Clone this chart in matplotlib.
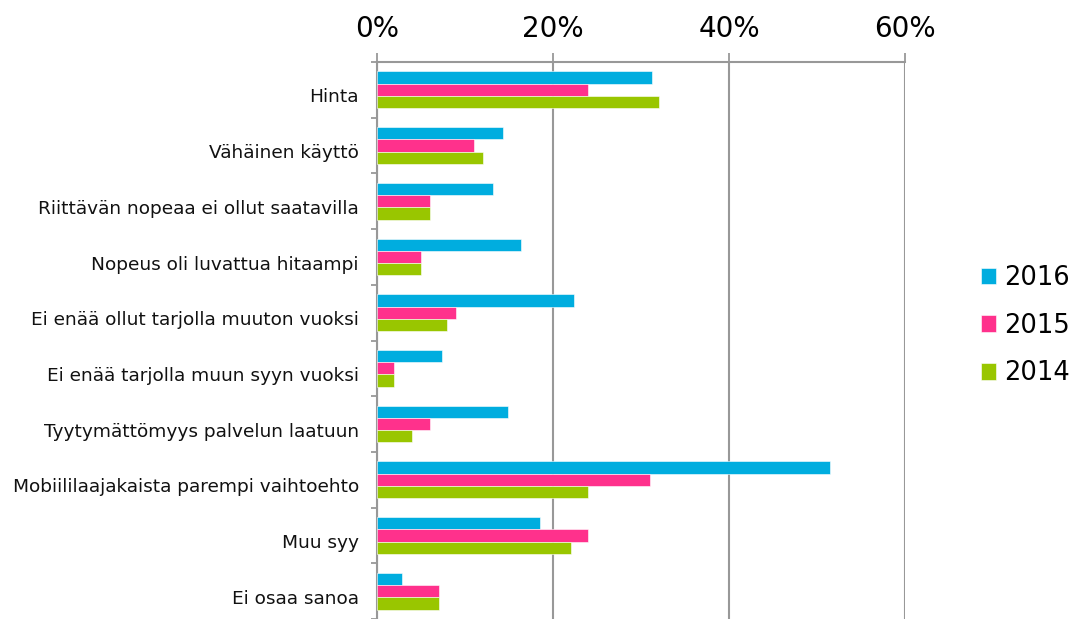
import numpy as np
import matplotlib
matplotlib.use("Agg")
import matplotlib.pyplot as plt
import matplotlib.transforms as mtransforms
from matplotlib.ticker import FuncFormatter

categories = ["Hinta", "Vähäinen käyttö", "Riittävän nopeaa ei ollut saatavilla",
              "Nopeus oli luvattua hitaampi", "Ei enää ollut tarjolla muuton vuoksi",
              "Ei enää tarjolla muun syyn vuoksi", "Tyytymättömyys palvelun laatuun",
              "Mobiililaajakaista parempi vaihtoehto", "Muu syy", "Ei osaa sanoa"]
v2016 = [31.2, 14.3, 13.2, 16.4, 22.4, 7.4, 14.9, 51.5, 18.5, 2.8]
v2015 = [24.0, 11.0, 6.0, 5.0, 9.0, 2.0, 6.0, 31.0, 24.0, 7.0]
v2014 = [32.0, 12.0, 6.0, 5.0, 8.0, 2.0, 4.0, 24.0, 22.0, 7.0]
years = ["2016", "2015", "2014"]
colors = ["#00ADDF", "#FF318C", "#99C600"]

fig = plt.figure(figsize=(10.83, 6.19), dpi=100)
ax = fig.add_axes([0.348, 0.0, 0.4877, 0.8998])

y = np.arange(len(categories))
h = 0.22
for k, (vals, lab, c) in enumerate(zip([v2016, v2015, v2014], years, colors)):
    ax.barh(y + (k - 1) * h, vals, height=h, color=c, label=lab,
            edgecolor="white", linewidth=0.4, zorder=3)

ax.set_xlim(0, 60)
ax.set_ylim(9.5, -0.5)
ax.xaxis.tick_top()
ax.set_xticks([0, 20, 40, 60])
ax.xaxis.set_major_formatter(FuncFormatter(lambda v, p: f"{v:.0f}%"))
ax.tick_params(axis="x", which="major", direction="out", length=6.5, width=1.3,
               color="#989898", labelsize=20, pad=7)
ax.grid(axis="x", color="#989898", linewidth=1.5, zorder=1)

ax.set_yticks(y)
ax.set_yticklabels(categories, color="#111111")
ax.tick_params(axis="y", which="major", length=0, labelsize=13.3, pad=13)
ax.set_yticks(np.arange(-0.5, 10, 1), minor=True)
ax.tick_params(axis="y", which="minor", direction="out", length=4, width=1.3,
               color="#989898")
# labels sit a bit below the group centre in the original
shift = mtransforms.ScaledTranslation(0, -4 / 72, fig.dpi_scale_trans)
for lbl in ax.get_yticklabels():
    lbl.set_transform(lbl.get_transform() + shift)

for s in ["right", "bottom"]:
    ax.spines[s].set_visible(False)
for s in ["left", "top"]:
    ax.spines[s].set_color("#989898")
    ax.spines[s].set_linewidth(1.5)

ax.legend(loc="center left", bbox_to_anchor=(0.896, 0.474), bbox_transform=fig.transFigure,
          frameon=False, fontsize=18.5, handlelength=0.6, handleheight=0.6,
          handletextpad=0.3, labelspacing=0.85, borderaxespad=0)

fig.savefig("out.png", dpi=100)
